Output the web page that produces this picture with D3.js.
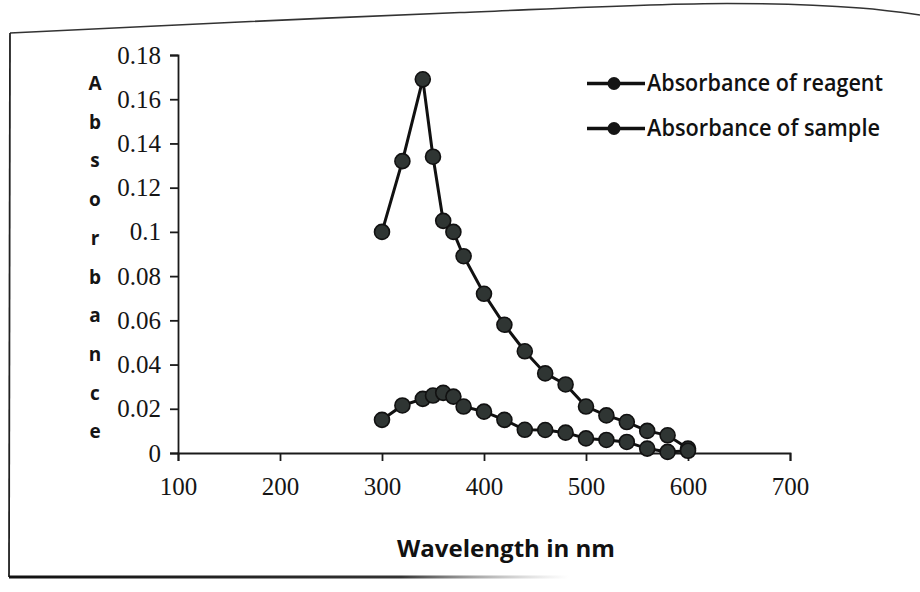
<!DOCTYPE html>
<html>
<head>
<meta charset="utf-8">
<script src="https://cdn.jsdelivr.net/npm/d3@7"></script>
<style>
    html, body { margin: 0; padding: 0; background: #fff; }
    svg { display: block; }
</style>
</head>
<body>
<div id="chart"></div>
<script>
    //chart values
    var wavelengths = [300, 320, 340, 350, 360, 370, 380, 400, 420, 440, 460, 480, 500, 520, 540, 560, 580, 600];
    var reagentValues = [0.100, 0.132, 0.169, 0.134, 0.105, 0.100, 0.089, 0.072, 0.058, 0.046, 0.036, 0.031, 0.021, 0.017, 0.014, 0.010, 0.008, 0.002];
    var sampleValues = [0.015, 0.0215, 0.0245, 0.026, 0.0272, 0.0255, 0.021, 0.0187, 0.015, 0.0105, 0.0104, 0.0092, 0.0066, 0.0059, 0.005, 0.002, 0.0005, 0.001];
    var seriesNames = ['Absorbance of reagent', 'Absorbance of sample'];
    var xTicks = [100, 200, 300, 400, 500, 600, 700];
    var yTicks = [0, 0.02, 0.04, 0.06, 0.08, 0.1, 0.12, 0.14, 0.16, 0.18];
    var xTitle = 'Wavelength in nm';
    var yTitle = 'Absorbance';

    //colours
    var $ink = '#111';
    var $marker = '#2f3533';

    var width = 920;
    var height = 592;

    var svg = d3.select('#chart').append('svg')
        .attr('width', width)
        .attr('height', height);

    //photographed page frame
    var frameLine = d3.line().curve(d3.curveCatmullRom);
    svg.append('path')
        .attr('d', frameLine([[10, 33], [240, 22], [460, 12.5], [727, 3.5], [860, 8], [920, 15]]))
        .attr('fill', 'none')
        .attr('stroke', '#333')
        .attr('stroke-width', 1.6);
    svg.append('path')
        .attr('d', 'M10,33 L9,577')
        .attr('stroke', '#222')
        .attr('stroke-width', 1.8);

    var fade = svg.append('defs').append('linearGradient')
        .attr('id', 'fade')
        .attr('x1', '0%').attr('x2', '100%');
    fade.append('stop').attr('offset', '0%').style('stop-color', '#111');
    fade.append('stop').attr('offset', '70%').style('stop-color', '#333');
    fade.append('stop').attr('offset', '100%').style('stop-color', '#999').style('stop-opacity', 0);
    svg.append('rect')
        .attr('x', 9).attr('y', 575.5)
        .attr('width', 560).attr('height', 3)
        .attr('fill', 'url(#fade)');

    //scales
    var x = d3.scaleLinear().domain([100, 700]).range([178, 790]);
    var y = d3.scaleLinear().domain([0, 0.18]).range([453, 55]);

    //axes
    var yAxis = d3.axisLeft(y)
        .tickValues(yTicks)
        .tickSize(8)
        .tickPadding(9)
        .tickFormat(function(d) { return d === 0 ? '0' : String(+d.toFixed(2)); });

    var xAxis = d3.axisBottom(x)
        .tickValues(xTicks)
        .tickSize(8)
        .tickPadding(16)
        .tickSizeOuter(8);

    var yG = svg.append('g')
        .attr('transform', 'translate(' + x(100) + ',0)')
        .call(yAxis);

    var xG = svg.append('g')
        .attr('transform', 'translate(0,' + y(0) + ')')
        .call(xAxis);

    [yG, xG].forEach(function(g) {
        g.selectAll('path, line')
            .attr('stroke', '#1a1a1a')
            .attr('stroke-width', 1.8);
        g.selectAll('text')
            .attr('fill', '#151515')
            .style('font-family', '"Liberation Serif", "Times New Roman", serif')
            .style('font-size', '25px');
    });

    //y title, stacked letters
    svg.append('g').selectAll('text')
        .data(yTitle.split(''))
        .enter().append('text')
        .attr('x', 95)
        .attr('y', function(d, i) { return 90 + i * 38.7; })
        .attr('text-anchor', 'middle')
        .style('font-family', '"Open Sans", sans-serif')
        .style('font-weight', 700)
        .style('font-size', '19px')
        .attr('fill', '#151515')
        .text(function(d) { return d; });

    //x title
    svg.append('text')
        .attr('x', 397)
        .attr('y', 557)
        .attr('textLength', 218)
        .attr('lengthAdjust', 'spacingAndGlyphs')
        .style('font-family', '"Open Sans", sans-serif')
        .style('font-weight', 700)
        .style('font-size', '24px')
        .attr('fill', '#111')
        .text(xTitle);

    //series
    var series = [reagentValues, sampleValues].map(function(vals, k) {
        return {
            name: seriesNames[k],
            points: wavelengths.map(function(w, i) { return {w: w, v: vals[i]}; })
        };
    });

    var line = d3.line()
        .x(function(d) { return x(d.w); })
        .y(function(d) { return y(d.v); });

    var seriesG = svg.append('g').selectAll('g')
        .data(series)
        .enter().append('g');

    seriesG.append('path')
        .attr('d', function(d) { return line(d.points); })
        .attr('fill', 'none')
        .attr('stroke', $ink)
        .attr('stroke-width', 3);

    seriesG.selectAll('circle')
        .data(function(d) { return d.points; })
        .enter().append('circle')
        .attr('cx', function(d) { return x(d.w); })
        .attr('cy', function(d) { return y(d.v); })
        .attr('r', 7.5)
        .attr('fill', $marker)
        .attr('stroke', $ink)
        .attr('stroke-width', 1.6);

    //legend
    var legend = svg.append('g').selectAll('g')
        .data(seriesNames)
        .enter().append('g')
        .attr('transform', function(d, i) { return 'translate(0,' + (83.5 + i * 45) + ')'; });

    legend.append('line')
        .attr('x1', 587).attr('x2', 645)
        .attr('stroke', $ink)
        .attr('stroke-width', 3.5);

    legend.append('circle')
        .attr('cx', 614)
        .attr('r', 6.5)
        .attr('fill', '#151515');

    legend.append('text')
        .attr('x', 647)
        .attr('y', 7)
        .attr('textLength', function(d, i) { return i === 0 ? 236 : 233; })
        .attr('lengthAdjust', 'spacingAndGlyphs')
        .style('font-family', '"Open Sans", sans-serif')
        .style('font-weight', 600)
        .style('font-size', '23px')
        .attr('fill', '#111')
        .text(function(d) { return d; });
</script>
</body>
</html>
